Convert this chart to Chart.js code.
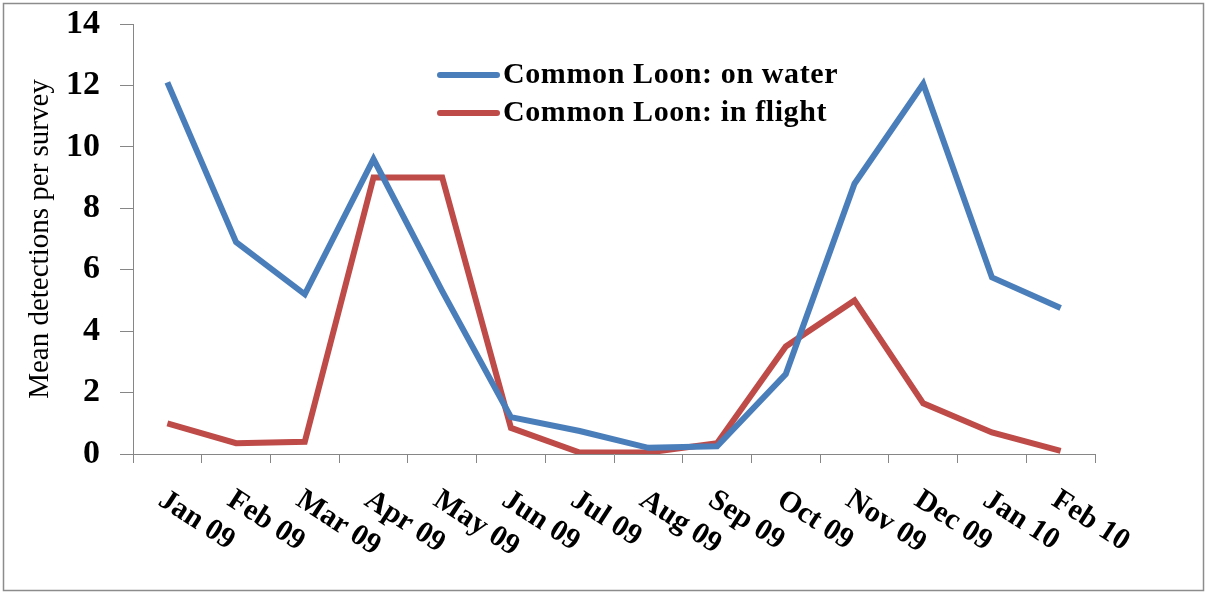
<!DOCTYPE html>
<html>
<head>
<meta charset="utf-8">
<script src="https://cdn.jsdelivr.net/npm/chart.js@4"></script>
<style>
  html, body { margin: 0; padding: 0; background: #ffffff; }
  #c { display: block; }
</style>
</head>
<body>
<canvas id="c" width="1207" height="594"></canvas>
<script>
const categories = ['Jan 09','Feb 09','Mar 09','Apr 09','May 09','Jun 09','Jul 09','Aug 09','Sep 09','Oct 09','Nov 09','Dec 09','Jan 10','Feb 10'];
const onWater  = [12.1, 6.9, 5.2, 9.6, 5.3, 1.2, 0.75, 0.2, 0.25, 2.6, 8.8, 12.05, 5.75, 4.75];
const inFlight = [1.0, 0.35, 0.4, 9.0, 9.0, 0.85, 0.05, 0.05, 0.35, 3.5, 5.0, 1.65, 0.7, 0.1];
const seriesLabels = ['Common Loon: on water', 'Common Loon: in flight'];
const seriesColors = ['#4A7EBB', '#BE4B48'];
const yTitle = 'Mean detections per survey';

const SERIF = '"Liberation Serif", "Times New Roman", serif';

const framePlugin = {
  id: 'frame',
  beforeDraw(chart) {
    const ctx = chart.ctx;
    ctx.save();
    ctx.fillStyle = '#ffffff';
    ctx.fillRect(0, 0, chart.width, chart.height);
    ctx.strokeStyle = '#8c8c8c';
    ctx.lineWidth = 1.5;
    ctx.strokeRect(3.5, 3.5, chart.width - 7, chart.height - 7);
    ctx.restore();
  }
};

const xLabelPlugin = {
  id: 'xLabels',
  afterDraw(chart) {
    const ctx = chart.ctx;
    const xs = chart.scales.x;
    const top = xs.top;
    ctx.save();
    ctx.font = 'bold 30px ' + SERIF;
    ctx.fillStyle = '#000000';
    ctx.textAlign = 'left';
    ctx.textBaseline = 'top';
    categories.forEach((lab, i) => {
      const cx = xs.getPixelForTick(i);
      ctx.save();
      ctx.translate(cx + 2, top + 31);
      ctx.rotate(33 * Math.PI / 180);
      ctx.fillText(lab, 0, 0);
      ctx.restore();
    });
    ctx.restore();
  }
};

const legendPlugin = {
  id: 'customLegend',
  afterDraw(chart) {
    const ctx = chart.ctx;
    ctx.save();
    ctx.font = 'bold 30px ' + SERIF;
    try { ctx.letterSpacing = '0.6px'; } catch (e) {}
    ctx.textAlign = 'left';
    ctx.textBaseline = 'middle';
    chart.data.datasets.forEach((ds, i) => {
      const y = 75 + i * 38;
      ctx.strokeStyle = ds.borderColor;
      ctx.lineWidth = 6;
      ctx.lineCap = 'round';
      ctx.beginPath();
      ctx.moveTo(440, y);
      ctx.lineTo(497, y);
      ctx.stroke();
      ctx.fillStyle = '#000000';
      ctx.fillText(ds.label, 503, y);
    });
    ctx.restore();
  }
};

new Chart(document.getElementById('c'), {
  type: 'line',
  data: {
    labels: categories,
    datasets: [
      { label: seriesLabels[0], data: onWater, borderColor: seriesColors[0], backgroundColor: seriesColors[0] },
      { label: seriesLabels[1], data: inFlight, borderColor: seriesColors[1], backgroundColor: seriesColors[1] }
    ]
  },
  options: {
    responsive: false,
    animation: false,
    devicePixelRatio: 1,
    layout: { padding: { left: 5, right: 112, top: 24, bottom: 131 } },
    elements: {
      line: { borderWidth: 6, tension: 0, fill: false, borderJoinStyle: 'miter' },
      point: { radius: 0, hoverRadius: 0 }
    },
    plugins: {
      legend: { display: false },
      tooltip: { enabled: false },
      title: { display: false }
    },
    scales: {
      x: {
        type: 'category',
        offset: true,
        grid: { display: true, offset: true, drawOnChartArea: false, drawTicks: true, tickLength: 9, color: '#868686', lineWidth: 1 },
        border: { display: true, color: '#868686', width: 1 },
        ticks: { display: false }
      },
      y: {
        min: 0,
        max: 14,
        ticks: { stepSize: 2, padding: 20, color: '#000000', font: { family: SERIF, size: 34, weight: 'bold' } },
        grid: { display: true, drawOnChartArea: false, drawTicks: true, tickLength: 13, color: '#868686', lineWidth: 1 },
        border: { display: true, color: '#868686', width: 1 },
        title: { display: true, text: yTitle, color: '#000000', font: { family: SERIF, size: 29, weight: 'normal' }, padding: { top: 18, bottom: 4 } },
        afterFit(scale) { scale.width = 128; scale.paddingTop = 0; scale.paddingBottom = 0; }
      }
    }
  },
  plugins: [framePlugin, xLabelPlugin, legendPlugin]
});
</script>
</body>
</html>
